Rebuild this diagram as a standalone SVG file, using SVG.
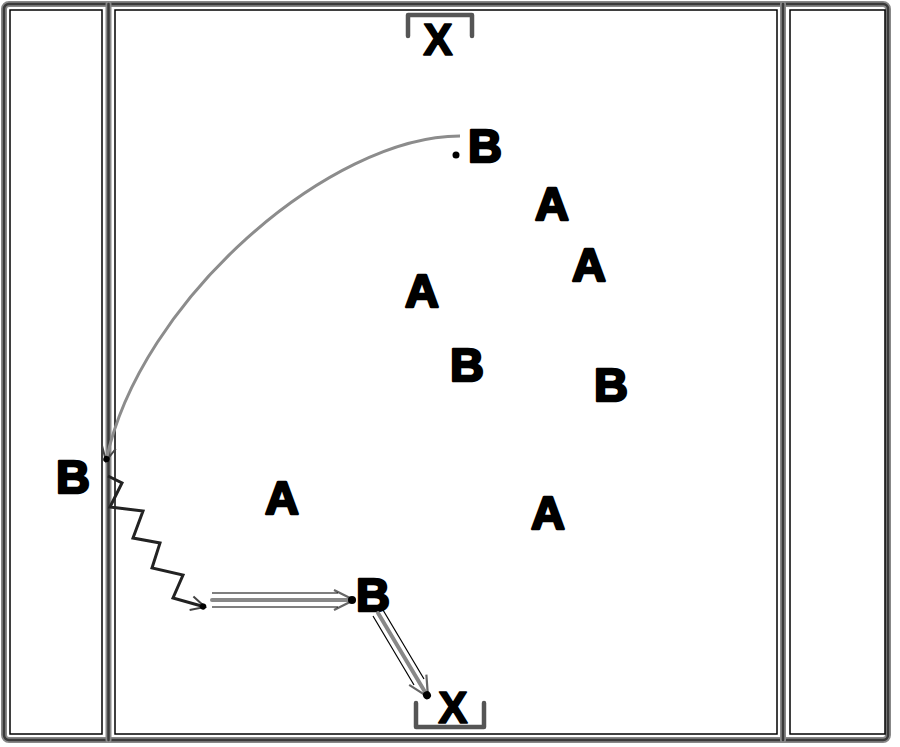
<svg xmlns="http://www.w3.org/2000/svg" width="900" height="747" viewBox="0 0 900 747">
<defs>
<style>
.lbl{font-family:"Liberation Sans",Arial,sans-serif;font-weight:bold;font-size:47px;fill:#000;stroke:#000;stroke-width:2.5;stroke-linejoin:round;text-anchor:middle}
.xl{font-family:"Liberation Sans",Arial,sans-serif;font-weight:bold;font-size:44px;fill:#000;stroke:#000;stroke-width:1.5;stroke-linejoin:round;text-anchor:middle}
.thick{fill:none;stroke:#888;stroke-width:6;stroke-linecap:round;stroke-linejoin:round}
.core{fill:none;stroke:#3a3a3a;stroke-width:2.5;stroke-linecap:round;stroke-linejoin:round}
.thin{fill:none;stroke:#000;stroke-width:1.5}
.brk{fill:none;stroke:#555;stroke-width:4.5;stroke-linecap:round;stroke-linejoin:round}
.pass{fill:none;stroke:#888;stroke-width:4;stroke-linecap:round}
.passedge{fill:none;stroke:#000;stroke-width:1.2}
</style>
<marker id="ah" viewBox="0 0 18 18" refX="15" refY="9" markerWidth="18" markerHeight="18" markerUnits="userSpaceOnUse" orient="auto">
<path d="M1,2 L15,9 L1,16" fill="none" stroke="#444" stroke-width="2"/>
<circle cx="13" cy="9" r="3.2" fill="#000"/>
</marker>
<marker id="ahbig" viewBox="0 0 26 26" refX="22" refY="13" markerWidth="26" markerHeight="26" markerUnits="userSpaceOnUse" orient="auto">
<path d="M2,3 L22,13 L2,23" fill="none" stroke="#666" stroke-width="2.2"/>
<circle cx="20" cy="13" r="4" fill="#000"/>
</marker>
</defs>
<g id="field">
<rect x="4" y="4" width="884" height="736" rx="5" class="thick"/>
<rect x="4" y="4" width="884" height="736" rx="5" class="core"/>
<line x1="108.5" y1="4" x2="108.5" y2="740" class="thick"/>
<line x1="108.5" y1="4" x2="108.5" y2="740" class="core"/>
<line x1="783" y1="4" x2="783" y2="740" class="thick"/>
<line x1="783" y1="4" x2="783" y2="740" class="core"/>
<rect x="10" y="10" width="92" height="724" class="thin"/>
<rect x="115" y="10" width="662" height="724" class="thin"/>
<rect x="790" y="10" width="95" height="724" class="thin"/>
</g>
<g id="goal-top">
<path d="M408,36 V15 H472 V36" class="brk"/>
<text x="438" y="55" class="xl">X</text>
</g>
<g id="goal-bottom">
<path d="M416,703 V727 H484 V703" class="brk"/>
<text x="453" y="723" class="xl">X</text>
</g>
<g id="b-top">
<text x="485" y="162" class="lbl">B</text>
<circle cx="456" cy="155" r="3.5" fill="#000"/>
</g>
<g id="a1"><text x="552" y="220" class="lbl">A</text></g>
<g id="a2"><text x="589" y="281" class="lbl">A</text></g>
<g id="a3"><text x="422" y="307" class="lbl">A</text></g>
<g id="b2"><text x="467" y="381" class="lbl">B</text></g>
<g id="b3"><text x="611" y="401" class="lbl">B</text></g>
<g id="b-left"><text x="73" y="493" class="lbl">B</text></g>
<g id="a4"><text x="282" y="514" class="lbl">A</text></g>
<g id="a5"><text x="548" y="529" class="lbl">A</text></g>
<g id="b-bottom"><text x="373" y="611" class="lbl">B</text></g>
<g id="connectors">
<path d="M460,136 C330,136 140,300 106,461" fill="none" stroke="#8c8c8c" stroke-width="3" marker-end="url(#ah)"/>
<path d="M108,476 L122,483 L110,507 L143,511 L133,538 L160,543 L152,568 L183,575 L173,598 L205,607" fill="none" stroke="#222" stroke-width="3" stroke-linejoin="miter" marker-end="url(#ah)"/>
<line x1="212" y1="600" x2="354" y2="600" class="pass" marker-end="url(#ahbig)"/>
<line x1="212" y1="593" x2="338" y2="593" class="passedge"/>
<line x1="212" y1="607" x2="338" y2="607" class="passedge"/>
<line x1="378" y1="613" x2="428" y2="697" class="pass" marker-end="url(#ahbig)"/>
<line x1="383" y1="610" x2="424" y2="679" class="passedge"/>
<line x1="373" y1="616" x2="414" y2="685" class="passedge"/>
</g>
</svg>
